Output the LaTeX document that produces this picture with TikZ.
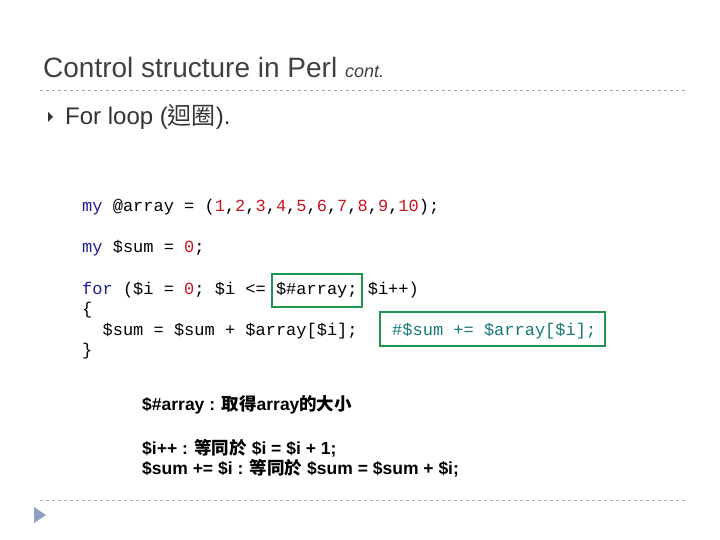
\documentclass[tikz,border=0pt]{standalone}
\usepackage{fontspec}
\setmainfont{Liberation Sans}
\setmonofont{Liberation Mono}
\newfontfamily\cjk{Noto Sans CJK TC}
\usetikzlibrary{positioning}
\definecolor{kwblue}{RGB}{30,30,140}
\definecolor{numred}{RGB}{200,20,30}
\definecolor{cmtteal}{RGB}{20,120,120}
\definecolor{boxgreen}{RGB}{30,150,80}
\definecolor{rulegray}{RGB}{170,170,170}
\definecolor{tipblue}{RGB}{140,160,200}
\tikzset{
  code/.style = { anchor=west, inner sep=0pt, font=\ttfamily\fontsize{17}{17}\selectfont },
  note/.style = { anchor=west, inner sep=0pt, font=\bfseries\fontsize{17.5}{17.5}\selectfont },
  hbox/.style = { draw=boxgreen, line width=2pt },
  sep/.style  = { rulegray, dashed, line width=0.6pt }
}
\newcommand{\kw}[1]{\textcolor{kwblue}{#1}}
\newcommand{\nm}[1]{\textcolor{numred}{#1}}
\begin{document}
\begin{tikzpicture}[x=1pt,y=-1pt]
  \useasboundingbox (0,0) rectangle (720,540);
  \node (title) [anchor=base west, inner sep=0pt, font=\fontsize{28}{28}\selectfont, text=black!75]
    at (43,78) {Control structure in Perl {\itshape\fontsize{18}{18}\selectfont cont.}};
  \draw [sep] (40,90) -- (685,90);
  \draw [sep] (40,500) -- (685,500);
  % bullet
  \fill [black!80] (48,112) -- (53,117) -- (48,122) -- cycle;
  \node (item) [anchor=base west, inner sep=0pt, font=\fontsize{24}{24}\selectfont, text=black!80]
    at (65,125) {For loop ({\cjk 迴圈}).};
  % code
  \node (l1) [code] at (82,207) {\kw{my} @array = (\nm{1},\nm{2},\nm{3},\nm{4},\nm{5},\nm{6},\nm{7},\nm{8},\nm{9},\nm{10});};
  \node (l2) [code] at (82,248) {\kw{my} \$sum = \nm{0};};
  \node (l3) [code] at (82,290) {\kw{for} (\$i = \nm{0}; \$i <= \$\#array; \$i++)};
  \node (l4) [code] at (82,310) {\{};
  \node (l5) [code] at (82,331) {\ \ \$sum = \$sum + \$array[\$i];};
  \node (l6) [code] at (82,351) {\}};
  \node (cmt) [code, text=cmtteal] at (392,331) {\#\$sum += \$array[\$i];};
  \draw [hbox] (272,274) rectangle (362,307);
  \draw [hbox] (380,312) rectangle (605,346);
  % notes
  \node (n1) [note] at (142,405) {\$\#array : {\cjk\bfseries 取得}array{\cjk\bfseries 的大小}};
  \node (n2) [note] at (142,448) {\$i++ : {\cjk\bfseries 等同於} \$i = \$i + 1;};
  \node (n3) [note] at (142,468) {\$sum += \$i : {\cjk\bfseries 等同於} \$sum = \$sum + \$i;};
  \fill [tipblue] (34,507) -- (46,515) -- (34,523) -- cycle;
\end{tikzpicture}
\end{document}
